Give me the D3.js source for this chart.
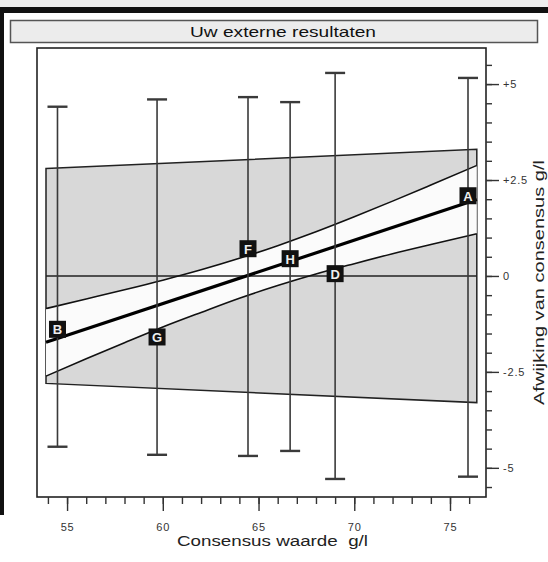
<!DOCTYPE html>
<html><head><meta charset="utf-8">
<script src="https://cdn.jsdelivr.net/npm/d3@7"></script>
<style>
html,body{margin:0;padding:0;background:#fff;}
svg{display:block;font-family:"Liberation Sans",Arial,Helvetica,sans-serif;}
</style></head>
<body>
<svg id="c" width="548" height="562"></svg>
<script>
// ---- data ----
const categories = ["B","G","F","H","D","A"];
const consensus  = [54.5, 59.7, 64.45, 66.65, 69.0, 75.94];
const deviation  = [-1.39, -1.59, 0.71, 0.45, 0.06, 2.09];
const limitHigh  = [4.41, 4.60, 4.66, 4.53, 5.29, 5.16];
const limitLow   = [-4.45, -4.66, -4.69, -4.56, -5.29, -5.23];
const bandX      = [53.9, 76.4];
const bandHigh   = [2.8, 3.3];
const bandLow    = [-2.8, -3.3];
const regX       = [53.9, 76.4];
const regY       = [-1.73, 1.99];
const ciX        = [53.9, 56, 58, 60, 62, 64, 66, 68, 70, 72, 74, 76.4];
const ciHigh     = [-0.85, -0.60, -0.36, -0.11, 0.16, 0.46, 0.79, 1.15, 1.54, 1.95, 2.37, 2.88];
const ciLow      = [-2.61, -2.16, -1.74, -1.33, -0.95, -0.58, -0.25, 0.05, 0.32, 0.58, 0.82, 1.10];
const xTicks     = [55, 60, 65, 70, 75];
const yTicks     = [5, 2.5, 0, -2.5, -5];
const yTickLabels= ["+5", "+2.5", "0", "-2.5", "-5"];
const title      = "Uw externe resultaten";
const xTitle     = "Consensus waarde  g/l";
const yTitle     = "Afwijking van consensus g/l";

const svg = d3.select("#c");
const L = 37, R = 486, T = 48, B = 497;
const x = d3.scaleLinear().domain([53.43, 76.88]).range([L, R]);
const y = d3.scaleLinear().domain([-5.76, 5.94]).range([B, T]);

// page decorations
svg.append("rect").attr("x",0).attr("y",0).attr("width",548).attr("height",9).attr("fill","#eeeeee");
svg.append("rect").attr("x",0).attr("y",7).attr("width",548).attr("height",6).attr("fill","#111");
svg.append("rect").attr("x",0).attr("y",7).attr("width",4).attr("height",508).attr("fill","#111");

// title box
svg.append("rect").attr("x",10.5).attr("y",20.5).attr("width",527).attr("height",22)
  .attr("fill","#ececec").attr("stroke","#555").attr("stroke-width",1.5);
svg.append("text").attr("x",190).attr("y",37).attr("text-anchor","start")
  .attr("font-size",14.5).attr("fill","#111")
  .attr("textLength",186).attr("lengthAdjust","spacingAndGlyphs").text(title);

// plot frame
svg.append("rect").attr("x",L).attr("y",T).attr("width",R-L).attr("height",B-T)
  .attr("fill","#fff").attr("stroke","#222").attr("stroke-width",1.6);

// gray limit band
const bandPts = [[bandX[0],bandHigh[0]],[bandX[1],bandHigh[1]],[bandX[1],bandLow[1]],[bandX[0],bandLow[0]]];
svg.append("path")
  .attr("d", d3.line().x(d=>x(d[0])).y(d=>y(d[1]))(bandPts) + "Z")
  .attr("fill","#d8d8d8").attr("stroke","#222").attr("stroke-width",1.5);

// confidence region (white)
const ciData = ciX.map((v,i)=>({x:v, hi:ciHigh[i], lo:ciLow[i]}));
svg.append("path").datum(ciData)
  .attr("d", d3.area().x(d=>x(d.x)).y0(d=>y(d.lo)).y1(d=>y(d.hi)).curve(d3.curveMonotoneX))
  .attr("fill","#fbfbfb");

// zero line
svg.append("line").attr("x1",x(bandX[0])).attr("x2",x(bandX[1])).attr("y1",y(0)).attr("y2",y(0))
  .attr("stroke","#222").attr("stroke-width",1.4);

// CI lines
const ciLine = key => d3.line().x(d=>x(d.x)).y(d=>y(d[key])).curve(d3.curveMonotoneX);
svg.append("path").datum(ciData).attr("d",ciLine("hi")).attr("fill","none").attr("stroke","#111").attr("stroke-width",1.6);
svg.append("path").datum(ciData).attr("d",ciLine("lo")).attr("fill","none").attr("stroke","#111").attr("stroke-width",1.6);

// regression line
svg.append("line").attr("x1",x(regX[0])).attr("x2",x(regX[1])).attr("y1",y(regY[0])).attr("y2",y(regY[1]))
  .attr("stroke","#000").attr("stroke-width",3.2);

// error bars
const pts = categories.map((c,i)=>({c, x:consensus[i], y:deviation[i], hi:limitHigh[i], lo:limitLow[i]}));
const eb = svg.append("g").attr("stroke","#3a3a3a").attr("stroke-width",1.6);
pts.forEach(p=>{
  eb.append("line").attr("x1",x(p.x)).attr("x2",x(p.x)).attr("y1",y(p.hi)).attr("y2",y(p.lo));
  eb.append("line").attr("x1",x(p.x)-10).attr("x2",x(p.x)+10).attr("y1",y(p.hi)).attr("y2",y(p.hi)).attr("stroke-width",2.4);
  eb.append("line").attr("x1",x(p.x)-10).attr("x2",x(p.x)+10).attr("y1",y(p.lo)).attr("y2",y(p.lo)).attr("stroke-width",2.4);
});

// point markers
const mk = svg.append("g").selectAll("g").data(pts).join("g")
  .attr("transform", d=>`translate(${x(d.x)},${y(d.y)})`);
mk.append("rect").attr("x",-8.5).attr("y",-8.5).attr("width",17).attr("height",17).attr("fill","#111");
mk.append("text").attr("text-anchor","middle").attr("y",5).attr("font-size",13).attr("font-weight","bold")
  .attr("fill","#eee").text(d=>d.c);

// bottom axis
const xMinor = d3.range(54, 77, 1);
const gx = svg.append("g").attr("transform",`translate(0,${B})`);
gx.call(d3.axisBottom(x).tickValues(xMinor).tickSize(7).tickFormat("")).call(g=>g.select(".domain").remove());
const gx2 = svg.append("g").attr("transform",`translate(0,${B})`);
gx2.call(d3.axisBottom(x).tickValues(xTicks).tickSize(14).tickPadding(12).tickFormat(d3.format("d")))
  .call(g=>g.select(".domain").remove());
gx2.selectAll("text").attr("font-size",11).attr("letter-spacing",0.8).attr("fill","#333")
  .attr("font-family","Liberation Sans, Arial, sans-serif");

// right axis
const yMinor = d3.range(-5.5, 6, 0.5);
const gy = svg.append("g").attr("transform",`translate(${R},0)`);
gy.call(d3.axisRight(y).tickValues(yMinor).tickSize(6).tickFormat("")).call(g=>g.select(".domain").remove());
const gy2 = svg.append("g").attr("transform",`translate(${R},0)`);
gy2.call(d3.axisRight(y).tickValues(yTicks).tickSize(13).tickPadding(4).tickFormat((d,i)=>yTickLabels[i]))
  .call(g=>g.select(".domain").remove());
gy2.selectAll("text").attr("font-size",11).attr("letter-spacing",0.8).attr("fill","#333")
  .attr("font-family","Liberation Sans, Arial, sans-serif");
svg.selectAll("g.tick line").attr("stroke","#333").attr("stroke-width",1.4);

// axis titles
svg.append("text").attr("x",177).attr("y",546).attr("text-anchor","start")
  .attr("font-size",15.5).attr("fill","#222").style("white-space","pre")
  .attr("textLength",191).attr("lengthAdjust","spacingAndGlyphs").text(xTitle);
svg.append("text").attr("transform","translate(544,405) rotate(-90)").attr("text-anchor","start")
  .attr("font-size",14.5).attr("fill","#222")
  .attr("textLength",245).attr("lengthAdjust","spacingAndGlyphs").text(yTitle);
</script>
</body></html>
